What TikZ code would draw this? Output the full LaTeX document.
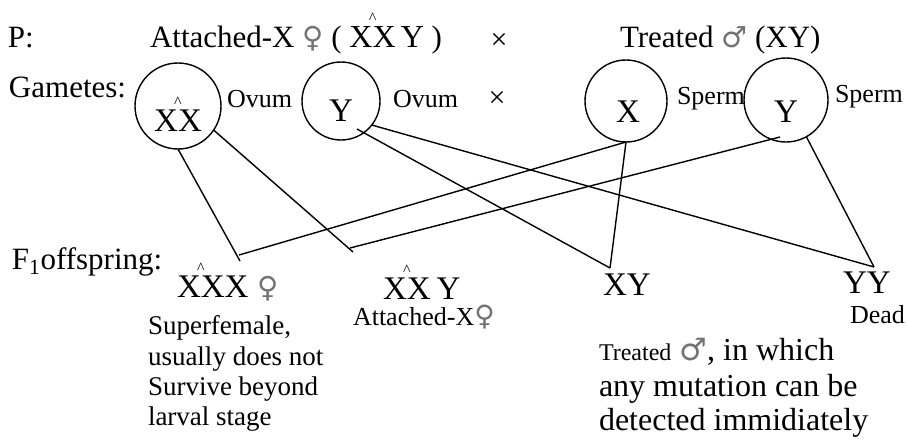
\documentclass[tikz,border=0pt]{standalone}
\usepackage{fontspec}
\setmainfont{Liberation Serif}
\newfontfamily\symfont{DejaVu Sans}
\usetikzlibrary{calc}
\newcommand{\fs}[1]{\fontsize{#1}{#1}\selectfont}
\newcommand{\jhat}{\makebox[0pt]{\raisebox{24pt}{\fs{16}\textasciicircum}}}
\newcommand{\fem}[1][29]{{\fs{#1}\symfont\color{black!55}♀}}
\newcommand{\mal}[1][29]{{\fs{#1}\symfont\color{black!55}♂}}
\begin{document}
\begin{tikzpicture}[x=1pt,y=-1pt,
  every node/.style={inner sep=0pt,outer sep=0pt},
  lbl/.style={anchor=base west,font=\fs{31}},
  chr/.style={anchor=base,font=\fs{33}},
  chrw/.style={anchor=base west,font=\fs{33}},
  sm/.style={anchor=base west,font=\fs{26}},
  desc/.style={anchor=base west,font=\fs{27}},
  descb/.style={anchor=base west,font=\fs{32}},
  gam/.style={draw,circle,line width=1.4pt,minimum size=#1},
  link/.style={line width=1.4pt}]
\useasboundingbox (0,0) rectangle (907,439);
% row P
\node[lbl] (P) at (8,47) {P:};
\node[lbl] (pf) at (150,47) {Attached-X \fem[29] ( {\fs{32}X\jhat X}\,{\fs{32}Y} )};
\node[font=\fs{30}] (cross1) at (499,41) {×};
\node[lbl] (pm) at (620,47) {Treated \mal[29] (XY)};
% gametes
\node[lbl] (gam) at (9,97) {Gametes:};
\node[gam=86pt] (c1) at (178,106) {};
\node[gam=78pt] (c2) at (341,101) {};
\node[gam=82pt] (c3) at (626,101) {};
\node[gam=84pt] (c4) at (786,100) {};
\node[chr] (t1) at (178,131) {X\jhat X};
\node[chr] (t2) at (341,121) {Y};
\node[chr] (t3) at (628,122) {X};
\node[chr] (t4) at (786,122) {Y};
\node[sm] (ov1) at (227,107) {Ovum};
\node[sm] (ov2) at (393,107) {Ovum};
\node[font=\fs{30}] (cross2) at (497,99) {×};
\node[sm] (sp1) at (677,104) {Sperm};
\node[sm] (sp2) at (835,102) {Sperm};
% F1
\node[lbl] (f1) at (12,269) {F\textsubscript{1}offspring:};
\node[chrw] (oxxx) at (177,297) {X\jhat XX\hspace{9pt}\fem[29]};
\node[chrw] (oxxy) at (383,299) {X\jhat X\hspace{6pt}Y};
\node[sm] (axxy) at (353,325) {Attached-X\fem[28]};
\node[chrw] (oxy) at (603,295) {XY};
\node[chrw] (oyy) at (843,293) {YY};
\node[sm] (dead) at (850,323) {Dead};
\node[desc] (sf1) at (148,334) {Superfemale,};
\node[desc] (sf2) at (148,365) {usually does not};
\node[desc] (sf3) at (148,395) {Survive beyond};
\node[desc] (sf4) at (148,425) {larval stage};
\node[descb] (tr1) at (599,360) {{\fs{24}Treated} \mal[31], in which};
\node[descb] (tr2) at (599,396) {any mutation can be};
\node[descb] (tr3) at (599,430) {detected immidiately};
% junctions
\coordinate (jxxx) at (240,261);
\coordinate (jxxx2) at (239,255);
\coordinate (jxxy) at (353,252);
\coordinate (jxxy2) at (350,248);
\coordinate (jxy) at (610,268);
\coordinate (jyy) at (874,267);
% connectors
\draw[link] (c1.south) -- (jxxx);
\draw[link] (c3.south) -- (jxxx2);
\draw[link] (c1.-34) -- (jxxy);
\draw[link] ($(c4.center)+(-6,37)$) -- (jxxy2);
\draw[link] ($(c2.center)+(16,28)$) -- (jxy);
\draw[link] (c3.south) -- (jxy);
\draw[link] (c2.-38) -- (jyy);
\draw[link] (c4.-61) -- (jyy);
\end{tikzpicture}
\end{document}
